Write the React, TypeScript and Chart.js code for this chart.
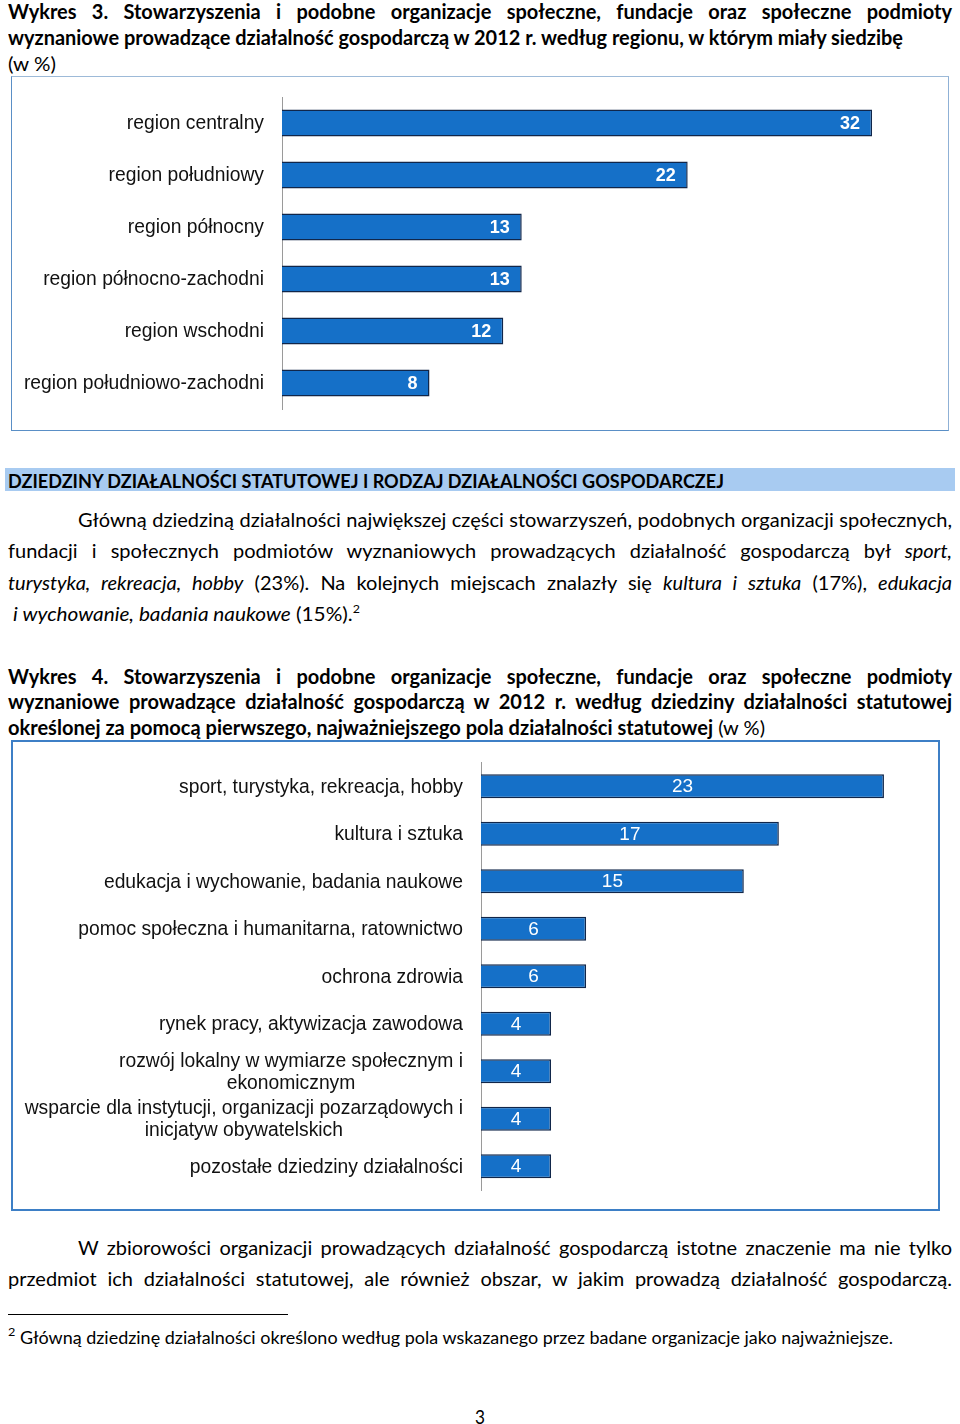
import React, { useEffect, useLayoutEffect, useRef } from 'react';
import { Chart, registerables } from 'chart.js';

Chart.register(...registerables);

// ---------- data ----------
const regionLabels = [
  'region centralny',
  'region południowy',
  'region północny',
  'region północno-zachodni',
  'region wschodni',
  'region południowo-zachodni',
];
const regionValues = [32, 22, 13, 13, 12, 8];

const fieldLabels = [
  ['sport, turystyka, rekreacja, hobby'],
  ['kultura i sztuka'],
  ['edukacja i wychowanie, badania naukowe'],
  ['pomoc społeczna i humanitarna, ratownictwo'],
  ['ochrona zdrowia'],
  ['rynek pracy, aktywizacja zawodowa'],
  ['rozwój lokalny w wymiarze społecznym i', 'ekonomicznym'],
  ['wsparcie dla instytucji, organizacji pozarządowych i', 'inicjatyw obywatelskich'],
  ['pozostałe dziedziny działalności'],
];
const fieldValues = [23, 17, 15, 6, 6, 4, 4, 4, 4];

// ---------- chart helpers ----------
const labelPlugin = {
  id: 'customLabels',
  afterDatasetsDraw(chart: any, _args: any, opts: any) {
    const ctx = chart.ctx;
    const yScale = chart.scales.y;
    const meta = chart.getDatasetMeta(0);
    ctx.save();
    ctx.textBaseline = 'middle';
    ctx.font = opts.catFont;
    ctx.fillStyle = opts.catColor;
    chart.data.labels.forEach((lab: any, i: number) => {
      const lines: string[] = Array.isArray(lab) ? lab : [lab];
      const yc = yScale.getPixelForValue(i);
      const maxW = Math.max(...lines.map((l) => ctx.measureText(l).width));
      const cx = chart.chartArea.left - opts.catGap - maxW / 2;
      ctx.textAlign = 'center';
      lines.forEach((l, j) => {
        ctx.fillText(l, cx, yc + 1 + (j - (lines.length - 1) / 2) * opts.lineH);
      });
    });
    ctx.font = opts.valFont;
    ctx.fillStyle = '#ffffff';
    meta.data.forEach((bar: any, i: number) => {
      const v = chart.data.datasets[0].data[i];
      const { x, base, y } = bar.getProps(['x', 'base', 'y'], true);
      if (opts.valMode === 'end') {
        ctx.textAlign = 'right';
        ctx.fillText(String(v), x - opts.valPad, y + 1);
      } else {
        ctx.textAlign = 'center';
        ctx.fillText(String(v), (x + base) / 2, y + 1);
      }
    });
    ctx.restore();
  },
};

function makeConfig(labels: any[], values: number[], p: any): any {
  return {
    type: 'bar',
    data: {
      labels,
      datasets: [
        {
          data: values,
          backgroundColor: '#1570c8',
          borderColor: '#10264a',
          borderWidth: 1.5,
          categoryPercentage: 1,
          barPercentage: p.barPct,
        },
      ],
    },
    options: {
      indexAxis: 'y',
      animation: false,
      responsive: false,
      maintainAspectRatio: false,
      layout: { padding: { top: p.padTop, bottom: p.padBottom, right: p.padRight, left: 0 } },
      scales: {
        x: { display: false, min: 0, max: p.max },
        y: {
          display: true,
          grid: { display: false },
          ticks: { display: false },
          border: { display: true, color: '#9a9a9a', width: 1 },
          afterFit: (s: any) => {
            s.width = p.axisX;
          },
        },
      },
      plugins: {
        legend: { display: false },
        tooltip: { enabled: false },
        customLabels: {
          catFont: '19.3px "Liberation Sans", Arial, sans-serif',
          catColor: '#111111',
          catGap: 18,
          lineH: 22,
          valFont: p.valFont,
          valMode: p.valMode,
          valPad: 12,
        },
      },
    },
    plugins: [labelPlugin],
  };
}

function BarChart({ left, top, width, height, config }: any) {
  const ref = useRef<HTMLCanvasElement>(null);
  useEffect(() => {
    const chart = new Chart(ref.current as HTMLCanvasElement, config);
    return () => chart.destroy();
  }, []);
  return (
    <canvas
      ref={ref}
      width={width}
      height={height}
      style={{ position: 'absolute', left, top, width, height }}
    />
  );
}

// ---------- text helper ----------
function TL({ x, yc, w, size = 20, bold = false, justify = false, lh = 26, children }: any) {
  const ref = useRef<HTMLSpanElement>(null);
  useLayoutEffect(() => {
    const el = ref.current as HTMLSpanElement;
    el.style.wordSpacing = '0px';
    el.style.transform = 'none';
    const nat = el.getBoundingClientRect().width;
    const spaces = ((el.textContent || '').match(/ /g) || []).length;
    if (justify && nat < w && spaces > 0) {
      el.style.wordSpacing = (w - nat) / spaces + 'px';
    } else if (nat > 0) {
      el.style.transform = `scaleX(${w / nat})`;
    }
  }, []);
  return (
    <div
      style={{
        position: 'absolute',
        left: x,
        top: yc - lh / 2,
        height: lh,
        lineHeight: lh + 'px',
        whiteSpace: 'nowrap',
        fontFamily: 'Lato, "Open Sans", sans-serif',
        fontSize: size,
        fontWeight: bold ? 700 : 400,
        color: '#000',
      }}
    >
      <span ref={ref} style={{ display: 'inline-block', transformOrigin: 'left center' }}>
        {children}
      </span>
    </div>
  );
}

const Sup = ({ children }: any) => (
  <span style={{ fontSize: 12, position: 'relative', top: -8 }}>{children}</span>
);

export default function App() {
  const cfg1 = makeConfig(regionLabels, regionValues, {
    barPct: 0.52,
    padTop: 20,
    padBottom: 21,
    padRight: 20.6,
    max: 35,
    axisX: 270,
    valFont: 'bold 18px "Liberation Sans Narrow", "Liberation Sans", Arial, sans-serif',
    valMode: 'end',
  });
  const cfg2 = makeConfig(fieldLabels, fieldValues, {
    barPct: 0.505,
    padTop: 20.5,
    padBottom: 19,
    padRight: 19,
    max: 25,
    axisX: 468,
    valFont: '19px "Liberation Sans", Arial, sans-serif',
    valMode: 'center',
  });

  return (
    <div style={{ position: 'absolute', left: 0, top: 0, width: 960, height: 1424, background: '#fff' }}>
      <TL x={8} yc={11} w={944} bold justify>
        Wykres 3. Stowarzyszenia i podobne organizacje społeczne, fundacje oraz społeczne podmioty
      </TL>
      <TL x={8} yc={37} w={895} bold>
        wyznaniowe prowadzące działalność gospodarczą w 2012 r. według regionu, w którym miały siedzibę
      </TL>
      <TL x={8} yc={63} w={48}>
        (w %)
      </TL>

      <div
        style={{
          position: 'absolute',
          left: 11,
          top: 76,
          width: 938,
          height: 355,
          boxSizing: 'border-box',
          borderTop: '1px solid #9dbad8',
          borderRight: '1.5px solid #8fb1d6',
          borderLeft: '1.5px solid #5a8fc6',
          borderBottom: '1.5px solid #5a8fc6',
        }}
      />
      <BarChart left={12} top={77} width={936} height={353} config={cfg1} />

      <div style={{ position: 'absolute', left: 5, top: 468, width: 950, height: 23, background: '#a8cbf1' }} />
      <TL x={8} yc={481} w={716} size={18} bold>
        DZIEDZINY DZIAŁALNOŚCI STATUTOWEJ I RODZAJ DZIAŁALNOŚCI GOSPODARCZEJ
      </TL>

      <TL x={78} yc={519} w={874} justify>
        Główną dziedziną działalności największej części stowarzyszeń, podobnych organizacji społecznych,
      </TL>
      <TL x={8} yc={550} w={944} justify>
        fundacji i społecznych podmiotów wyznaniowych prowadzących działalność gospodarczą był <i>sport,</i>
      </TL>
      <TL x={8} yc={582} w={944} justify>
        <i>turystyka, rekreacja, hobby</i> (23%). Na kolejnych miejscach znalazły się <i>kultura i sztuka</i> (17%),{' '}
        <i>edukacja</i>
      </TL>
      <TL x={13} yc={613} w={347}>
        <i>i wychowanie, badania naukowe</i> (15%).<Sup>2</Sup>
      </TL>

      <TL x={8} yc={676} w={944} bold justify>
        Wykres 4. Stowarzyszenia i podobne organizacje społeczne, fundacje oraz społeczne podmioty
      </TL>
      <TL x={8} yc={701} w={944} bold justify>
        wyznaniowe prowadzące działalność gospodarczą w 2012 r. według dziedziny działalności statutowej
      </TL>
      <TL x={8} yc={727} w={757}>
        <b>określonej za pomocą pierwszego, najważniejszego pola działalności statutowej</b> (w %)
      </TL>

      <div
        style={{
          position: 'absolute',
          left: 11,
          top: 740,
          width: 929,
          height: 471,
          boxSizing: 'border-box',
          border: '2px solid #3d7fc6',
        }}
      />
      <BarChart left={13} top={742} width={925} height={467} config={cfg2} />

      <TL x={78} yc={1247} w={874} justify>
        W zbiorowości organizacji prowadzących działalność gospodarczą istotne znaczenie ma nie tylko
      </TL>
      <TL x={8} yc={1278} w={944} justify>
        przedmiot ich działalności statutowej, ale również obszar, w jakim prowadzą działalność gospodarczą.
      </TL>

      <div style={{ position: 'absolute', left: 8, top: 1314, width: 280, height: 1, background: '#000' }} />
      <TL x={8} yc={1338} w={885} size={17} lh={22}>
        <Sup>2</Sup> Główną dziedzinę działalności określono według pola wskazanego przez badane organizacje jako
        najważniejsze.
      </TL>

      <TL x={475} yc={1416} w={10} size={20}>
        3
      </TL>
    </div>
  );
}
